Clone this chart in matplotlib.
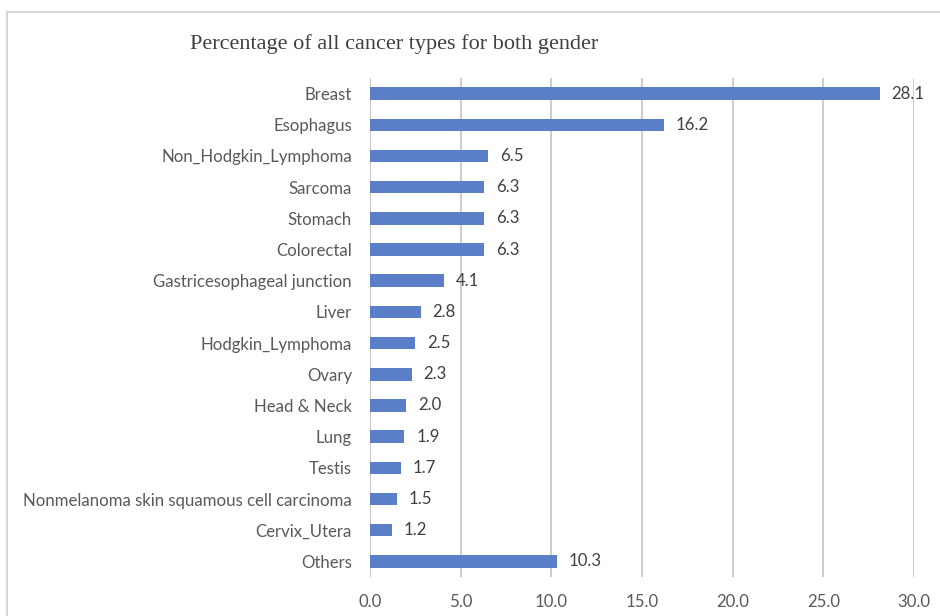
import matplotlib.pyplot as plt
from matplotlib.patches import Rectangle

categories = [
    "Breast", "Esophagus", "Non_Hodgkin_Lymphoma", "Sarcoma", "Stomach",
    "Colorectal", "Gastricesophageal junction", "Liver", "Hodgkin_Lymphoma",
    "Ovary", "Head & Neck", "Lung", "Testis",
    "Nonmelanoma skin squamous cell carcinoma", "Cervix_Utera", "Others",
]
percentages = [28.1, 16.2, 6.5, 6.3, 6.3, 6.3, 4.1, 2.8, 2.5, 2.3, 2.0, 1.9,
               1.7, 1.5, 1.2, 10.3]
x_ticks = [0.0, 5.0, 10.0, 15.0, 20.0, 25.0, 30.0]

sans = "Lato"
label_size = 12.1
text_color = "#595959"
bar_color = "#5a7ec8"
grid_color = "#c8c8c8"

fig = plt.figure(figsize=(9.4, 6.16), dpi=100)
# chart-area frame, running past the right and bottom edges
fig.patches.append(Rectangle((7 / 940, -0.1), 1.2, (616 - 12) / 616 + 0.1,
                             transform=fig.transFigure, fill=False,
                             edgecolor="#d6d6d6", linewidth=1.5))

ax = fig.add_axes([370 / 940, 1 - 577 / 616, (914 - 370) / 940, (577 - 78) / 616])
ypos = list(range(len(categories)))
ax.barh(ypos, percentages, height=0.4, color=bar_color, zorder=3)
ax.set_ylim(len(categories) - 0.5, -0.5)
ax.set_xlim(0, 30)
ax.set_xticks(x_ticks)
ax.set_xticklabels([f"{t:.1f}" for t in x_ticks], fontsize=label_size,
                   color=text_color, family=sans)
ax.set_yticks(ypos)
ax.set_yticklabels(categories, fontsize=label_size, color=text_color, family=sans)
ax.tick_params(axis="both", length=0)
ax.tick_params(axis="y", pad=13)
ax.tick_params(axis="x", pad=12)
ax.grid(axis="x", color=grid_color, linewidth=1.3, zorder=0)
for s in ax.spines.values():
    s.set_visible(False)
ax.axvline(0, color=grid_color, linewidth=1.3, zorder=1)

for y, v in zip(ypos, percentages):
    ax.annotate(f"{v:.1f}", (v, y), xytext=(8.5, 0), textcoords="offset points",
                ha="left", va="center", fontsize=label_size, color="#404040",
                family=sans, zorder=4)

fig.text(394 / 940, 1 - 44 / 616, "Percentage of all cancer types for both gender",
         ha="center", va="center", fontsize=16, family="Liberation Serif",
         color="#404040")

fig.savefig("out.png", dpi=100)
